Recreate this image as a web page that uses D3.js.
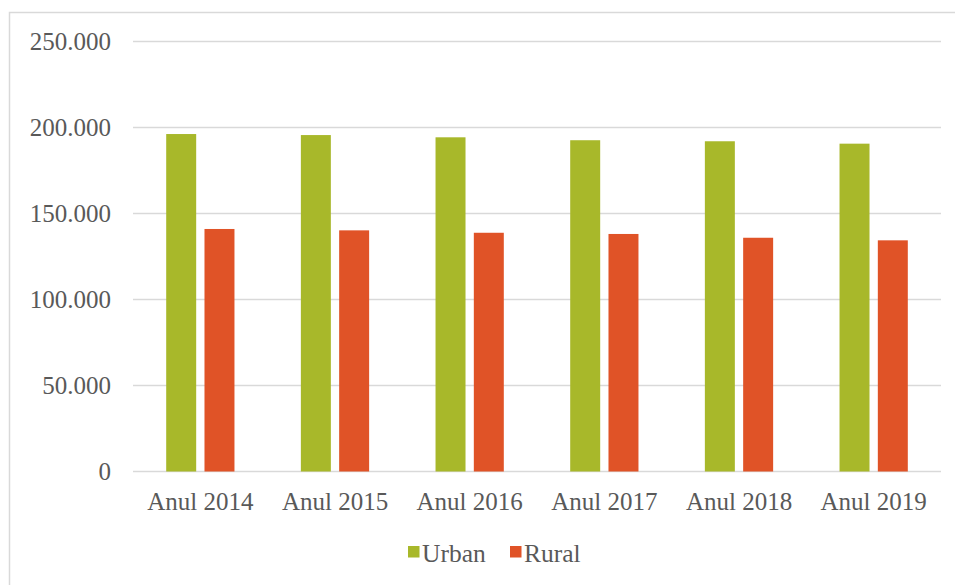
<!DOCTYPE html>
<html>
<head>
<meta charset="utf-8">
<script src="https://cdn.jsdelivr.net/npm/d3@7"></script>
<style>
  html, body { margin: 0; padding: 0; background: #fff; }
  svg { display: block; }
  text { font-family: "Liberation Serif", "Times New Roman", serif; fill: #595959; }
</style>
</head>
<body>
<svg id="chart" width="955" height="585"></svg>
<script>
// Population by residence area, 2014–2019
const years = ["Anul 2014", "Anul 2015", "Anul 2016", "Anul 2017", "Anul 2018", "Anul 2019"];
const urban = [196200, 195600, 194300, 192600, 192000, 190600];
const rural = [141000, 140200, 138800, 138100, 135900, 134400];
const seriesNames = ["Urban", "Rural"];
const seriesColors = ["#A8B82A", "#E05327"];
const yTicks = [0, 50000, 100000, 150000, 200000, 250000];

const svg = d3.select("#chart");
const W = 955, H = 585;

// Chart frame
svg.append("rect")
  .attr("x", 9.5).attr("y", 12.5)
  .attr("width", W + 10).attr("height", H + 10)
  .attr("fill", "#fff").attr("stroke", "#d9d9d9").attr("stroke-width", 1.5);

const plot = { left: 133, right: 941, top: 41.5, bottom: 471.5 };

const x = d3.scaleBand().domain(years).range([plot.left, plot.right]).paddingInner(0).paddingOuter(0);
const y = d3.scaleLinear().domain([0, 250000]).range([plot.bottom, plot.top]);

const fmt = v => v === 0 ? "0" : d3.format(",")(v).replace(/,/g, ".");

// Horizontal gridlines
svg.append("g")
  .selectAll("line").data(yTicks).join("line")
  .attr("x1", plot.left).attr("x2", plot.right)
  .attr("y1", d => y(d)).attr("y2", d => y(d))
  .attr("stroke", "#d9d9d9").attr("stroke-width", 1.5);

// Y axis labels
const yAxis = d3.axisLeft(y).tickValues(yTicks).tickFormat(fmt).tickSize(0).tickPadding(0);
const gy = svg.append("g").attr("transform", `translate(111,0)`).call(yAxis);
gy.select(".domain").remove();
gy.selectAll("text")
  .attr("font-family", "Liberation Serif, serif")
  .attr("font-size", 25).attr("fill", "#595959").attr("dy", "0.33em");

// Bars
const sub = d3.scaleBand().domain(seriesNames).range([0, x.bandwidth()]).paddingInner(0.217).paddingOuter(0.867);
const rows = years.map((yr, i) => ({ yr, values: [urban[i], rural[i]] }));
const groups = svg.append("g").selectAll("g").data(rows).join("g")
  .attr("transform", d => `translate(${x(d.yr)},0)`);
groups.selectAll("rect")
  .data(d => d.values.map((v, j) => ({ name: seriesNames[j], v, color: seriesColors[j] })))
  .join("rect")
  .attr("x", d => sub(d.name))
  .attr("width", sub.bandwidth())
  .attr("y", d => y(d.v))
  .attr("height", d => y(0) - y(d.v))
  .attr("fill", d => d.color);

// X axis labels
const xAxis = d3.axisBottom(x).tickSize(0).tickPadding(0);
const gx = svg.append("g").attr("transform", `translate(0,${plot.bottom})`).call(xAxis);
gx.select(".domain").remove();
gx.selectAll("text")
  .attr("font-family", "Liberation Serif, serif")
  .attr("font-size", 25).attr("fill", "#595959")
  .attr("dy", 0).attr("y", 38);

// Legend
const legend = svg.append("g");
const legendItems = [
  { name: "Urban", color: seriesColors[0], x: 408 },
  { name: "Rural", color: seriesColors[1], x: 510 }
];
legendItems.forEach(it => {
  legend.append("rect").attr("x", it.x).attr("y", 546).attr("width", 11.5).attr("height", 11.5).attr("fill", it.color);
  legend.append("text").attr("x", it.x + 14).attr("y", 562)
    .attr("font-size", 25.5).text(it.name);
});
</script>
</body>
</html>
